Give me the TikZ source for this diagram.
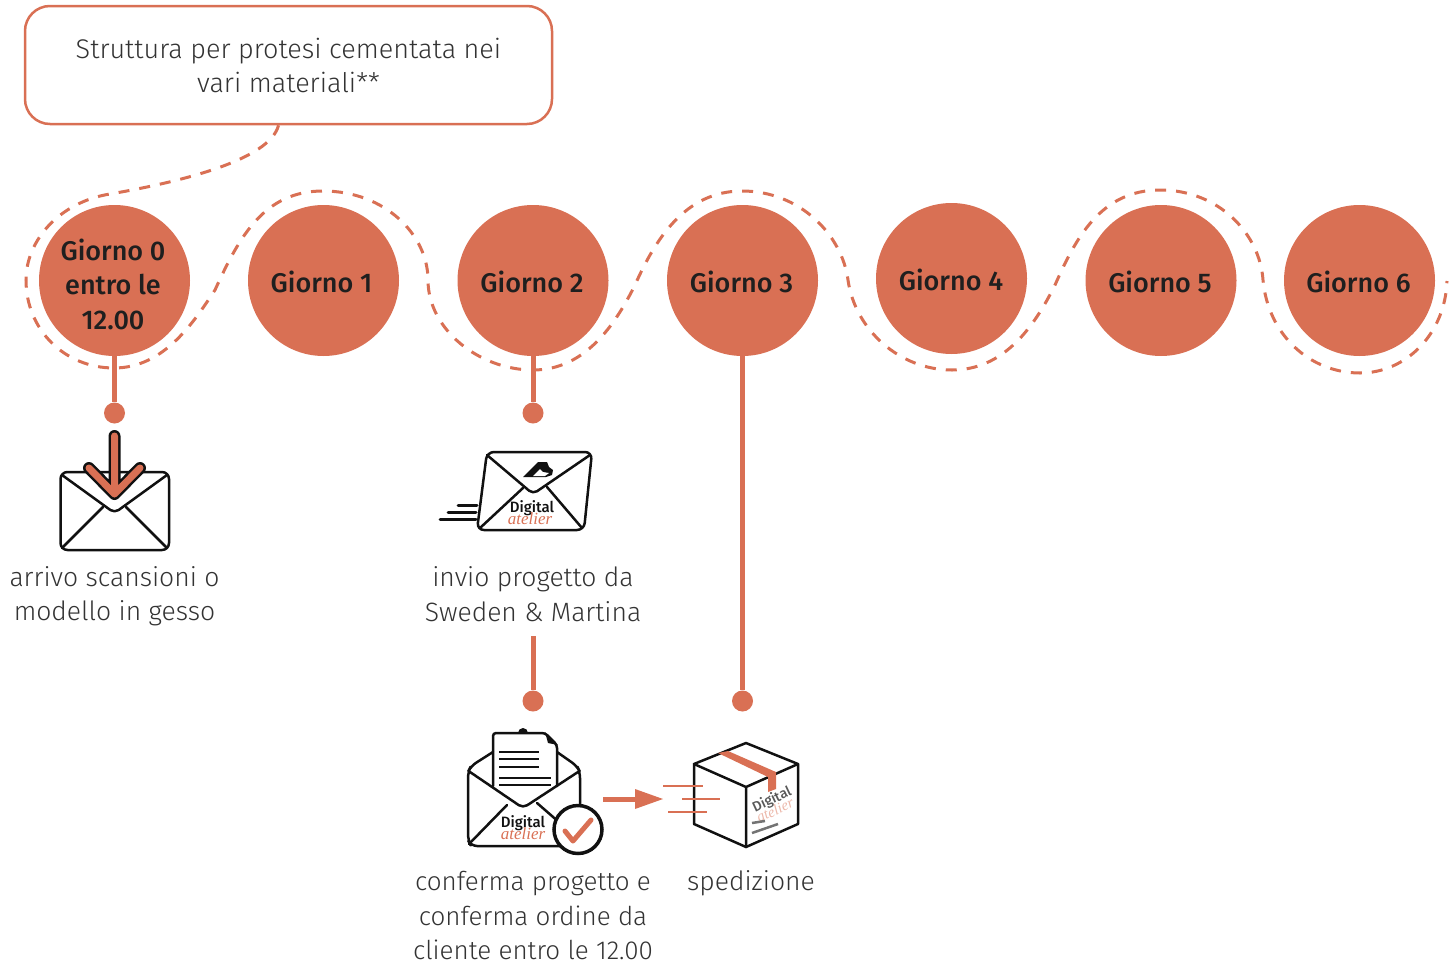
\documentclass[tikz,border=0pt]{standalone}
\usepackage{fontspec}
\setmainfont{Fira Sans}[UprightFont=* Light,BoldFont=* Medium]
\newfontfamily\atelierface{Liberation Serif}
\definecolor{terra}{HTML}{D97054}
\definecolor{inkblack}{HTML}{111111}
\begin{document}
\begin{tikzpicture}[x=1pt,y=-1pt,
   day/.style={circle,fill=terra,minimum size=151pt,inner sep=0pt},
   daytext/.style={inner sep=0pt,align=center,text=black!88,font=\fontsize{27}{34.5}\selectfont\bfseries},
   pin/.style={circle,fill=terra,minimum size=21pt,inner sep=0pt},
   caption/.style={align=center,inner sep=0pt,text=black!80,font=\fontsize{26.5}{34.5}\selectfont},
   note/.style={rectangle,draw=terra,line width=2.5pt,rounded corners=25pt,minimum width=527pt,
    minimum height=118pt,align=center,text=black!80,font=\fontsize{27}{34}\selectfont},
   stem/.style={terra,line width=5pt},
   ink/.style={inkblack,line width=2.5pt,line cap=round,line join=round},
   digital/.style={inner sep=0pt,text=inkblack,font=\fontsize{15}{15}\selectfont\bfseries},
   atelier/.style={inner sep=0pt,text=terra,font=\fontsize{17}{17}\atelierface\itshape}
    ]
  \useasboundingbox (0,0) rectangle (1456,964);

  % -- note and dashed line
  \node[note] at (288.5,65) (remark) {Struttura per protesi cementata nei\\vari materiali**};
  \draw[terra,line width=3pt,dash pattern=on 11pt off 10pt]
    ([xshift=-10pt]remark.south) .. controls (270,160) and (180,182) .. (110,194)
    .. controls (60,202) and (26,240) .. (26,280)
    .. controls (26,330) and (65,368) .. (114,368)
    .. controls (165,368) and (195,320) .. (215,290)
    .. controls (240,235) and (265,191) .. (323,191)
    .. controls (385,191) and (428,235) .. (428,280)
    .. controls (428,330) and (480,370) .. (533,370)
    .. controls (585,370) and (615,325) .. (635,285)
    .. controls (655,240) and (685,191) .. (742,191)
    .. controls (800,191) and (842,235) .. (848,280)
    .. controls (855,330) and (900,370) .. (952,370)
    .. controls (1005,370) and (1035,325) .. (1055,285)
    .. controls (1075,240) and (1100,190) .. (1160,190)
    .. controls (1220,190) and (1260,235) .. (1263,280)
    .. controls (1268,335) and (1310,373) .. (1360,373)
    .. controls (1405,373) and (1445,335) .. (1447,281);

  % -- days
  \node[day] at (114.5,280.5) (d0) {};
  \node[day] at (323.5,280.5) (d1) {};
  \node[day] at (533,280.5) (d2) {};
  \node[day] at (742.5,280.5) (d3) {};
  \node[day] at (951.5,278.5) (d4) {};
  \node[day] at (1161,280.5) (d5) {};
  \node[day] at (1359.5,280.5) (d6) {};
  \node[daytext] at (113,284) (t0) {Giorno 0\\entro le\\12.00};
  \node[daytext] at (321.5,281.5) (t1) {Giorno 1};
  \node[daytext] at (532,281.5) (t2) {Giorno 2};
  \node[daytext] at (741.5,281.5) (t3) {Giorno 3};
  \node[daytext] at (951,279.5) (t4) {Giorno 4};
  \node[daytext] at (1160,281.5) (t5) {Giorno 5};
  \node[daytext] at (1358.5,281.5) (t6) {Giorno 6};

  % -- pins
  \node[pin] at (114.5,413) (p0) {};
  \node[pin] at (533,413) (p2) {};
  \node[pin] at (533,701) (p2b) {};
  \node[pin] at (742.5,701) (p3) {};
  \coordinate (p2top) at (533,636);
  \draw[stem] (d0) -- (p0);
  \draw[stem] (d2) -- (p2);
  \draw[stem] (p2top) -- (p2b);
  \draw[stem] (d3) -- (p3);

  % -- captions
  \node[caption] at (114.5,596) (c0) {arrivo scansioni o\\modello in gesso};
  \node[caption] at (533,594) (c2) {invio progetto da\\Sweden \& Martina};
  \node[caption,font=\fontsize{26}{34.5}\selectfont] at (533,915.5) (c2b) {conferma progetto e\\conferma ordine da\\cliente entro le 12.00};
  \node[caption] at (751,883) (c3) {spedizione};

  % -- envelope, arrival
  \draw[ink,rounded corners=7pt] (60.5,472) rectangle (169,550);
  \draw[ink,rounded corners=5pt] (62,475) -- (114.5,513) -- (167,475);
  \draw[ink] (62,548) -- (103,507) (167,548) -- (126,507);
  \draw[inkblack,line width=12pt,line cap=round,line join=round]
    (114.5,436) -- (114.5,494) (89,468) -- (114.5,494) -- (140,468);
  \draw[terra,line width=7pt,line cap=round,line join=round]
    (114.5,436) -- (114.5,494) (89,468) -- (114.5,494) -- (140,468);

  % -- envelope, sent
  \draw[ink,rounded corners=7pt] (487,452) -- (592,452) -- (584,530) -- (477,530) -- cycle;
  \draw[ink,rounded corners=5pt] (487,455) -- (533,494) -- (590,455);
  \draw[ink] (480,528) -- (523,488) (582,528) -- (547,487);
  \draw[inkblack,line width=3pt,line cap=round] (458,505) -- (477,505) (448,512) -- (476,512) (440,519) -- (476,519);
  \fill[inkblack] (523,477) -- (538,462) -- (547,462) -- (549,467) -- (553,470) -- (552,475) -- (546,477) -- cycle;
  \fill[white] (533,476) -- (540,469) -- (543,472) -- (549,473) -- (545,476) -- cycle;
  \node[digital] at (532,508) (dg1) {Digital};
  \node[atelier] at (530,519) (at1) {atelier};

  % -- envelope, confirmed
  \draw[ink,rounded corners=6pt] (493,752) -- (471,766) -- (468,772) -- (468,840) -- (471,846)
    -- (560,846);
  \draw[ink,rounded corners=6pt] (557,752) -- (577,766) -- (580,772) -- (580,806);
  \fill[inkblack] (518,733) arc (180:0:5pt) -- cycle;
  \draw[ink,rounded corners=3pt] (493,786) -- (493,733) -- (545,733) -- (557,745) -- (557,786);
  \fill[inkblack] (545,732) -- (558,745) -- (548,743) -- cycle;
  \draw[ink,rounded corners=5pt] (470,772) -- (523,808) -- (578,772);
  \draw[ink] (469,844) -- (507,805) (537,803) -- (560,823);
  \draw[inkblack,line width=2pt]
    (499,752) -- (539,752) (499,759) -- (539,759) (499,767) -- (539,767)
    (499,778) -- (551,778) (499,785) -- (551,785);
  \node[digital] at (523,823) (dg2) {Digital};
  \node[atelier] at (523,834) (at2) {atelier};
  \node[circle,draw=inkblack,line width=3.5pt,fill=white,minimum size=48pt,inner sep=0pt] at (578,829.5) (tick) {};
  \draw[terra,line width=5pt,line cap=round,line join=round] (565,831) -- (573,841) -- (591,820);

  % -- arrow to box
  \coordinate (fromA) at (603,799);
  \coordinate (toA) at (663,799);
  \draw[terra,line width=5pt] (fromA) -- (636,799);
  \fill[terra] (toA) -- (635,789) -- (635,809) -- cycle;

  % -- box
  \draw[ink] (746,743) -- (798,764) -- (798,824) -- (746,847) -- (694,824) -- (694,764) -- cycle;
  \draw[ink] (694,764) -- (746,787) -- (798,764) (746,787) -- (746,847);
  \fill[terra] (718,753) -- (728,751) -- (776,772) -- (776,789) -- (768,792) -- (768,777) -- cycle;
  \draw[terra,line width=2.5pt] (663,786) -- (703,786) (682,799) -- (720,799) (668,812) -- (707,812);
  \node[inner sep=0pt,rotate=25,text=black!65,font=\fontsize{14}{14}\selectfont\bfseries] at (772,800) (dg3) {Digital};
  \node[inner sep=0pt,rotate=25,text=terra!50,font=\fontsize{15}{15}\atelierface\itshape] at (775,810) (at3) {atelier};
  \draw[black!55,line width=2.5pt] (752,823) -- (765,821) (752,833) -- (778,824);
\end{tikzpicture}
\end{document}
